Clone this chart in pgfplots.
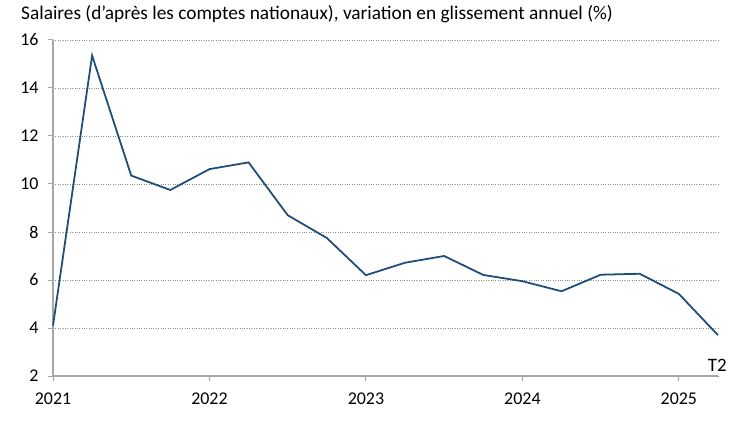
\documentclass[border=0pt]{standalone}
\usepackage{pgfplots}
\pgfplotsset{compat=1.18}
\usepackage{fontspec}
\setmainfont{Carlito}
\definecolor{serie}{HTML}{1F4E79}
\definecolor{axe}{HTML}{A6A6A6}
\definecolor{grille}{HTML}{8C8C8C}

\begin{document}
\begin{tikzpicture}
\useasboundingbox (-53bp,-46bp) rectangle (697bp,376bp);
\begin{axis}[
  at={(0,0)}, anchor=south west,
  scale only axis,
  width=665bp, height=336bp,
  xmin=2021, xmax=2025.25,
  ymin=2, ymax=16,
  xtick={2021,2022,2023,2024,2025},
  ytick={2,4,...,16},
  xticklabel style={/pgf/number format/1000 sep={}},
  /pgf/number format/assume math mode=true,
  ticklabel style={font=\fontsize{18}{20}\selectfont, text=black},
  axis x line*=bottom, axis y line*=left,
  axis line style={axe, line width=1.1pt, -},
  tick style={axe, line width=1pt},
  tick align=outside,
  major tick length=5bp,
  xtick pos=bottom, ytick pos=left,
  ymajorgrids,
  grid style={grille, dotted, line width=0.8pt},
  yticklabel style={xshift=-6bp},
  xticklabel style={yshift=-8bp},
  clip=false,
]
\addplot[serie, line width=1.8pt] coordinates {
  (2021.00,4.10) (2021.25,15.35) (2021.50,10.35) (2021.75,9.75)
  (2022.00,10.62) (2022.25,10.90) (2022.50,8.70) (2022.75,7.75)
  (2023.00,6.20) (2023.25,6.72) (2023.50,7.00) (2023.75,6.21)
  (2024.00,5.95) (2024.25,5.53) (2024.50,6.22) (2024.75,6.26)
  (2025.00,5.42) (2025.25,3.70)
};
\end{axis}
\node[anchor=base west, font=\fontsize{19.4}{21}\selectfont, inner sep=0pt] at (-32bp,356bp)
  {Salaires (d’après les comptes nationaux), variation en glissement annuel (\%)};
\node[anchor=base east, font=\fontsize{19}{21}\selectfont, inner sep=0pt] at (674bp,5bp) {T2};
\end{tikzpicture}
\end{document}
